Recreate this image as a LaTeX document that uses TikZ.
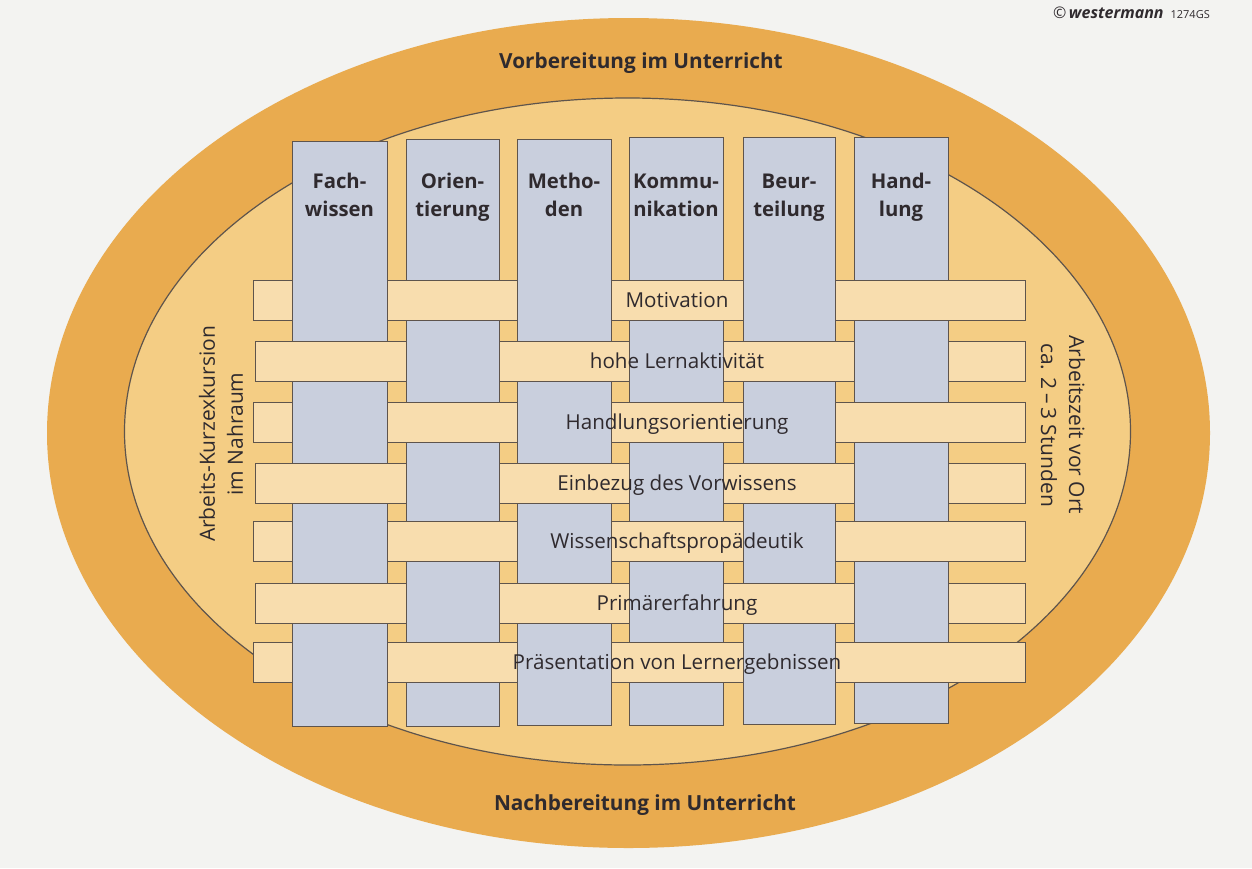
\documentclass[tikz,border=0pt]{standalone}
\usepackage{fontspec}
\setmainfont{Open Sans}
\definecolor{bg}{HTML}{F3F3F1}
\definecolor{ring}{HTML}{E9AB4F}
\definecolor{innerfill}{HTML}{F4CD84}
\definecolor{stripfill}{HTML}{F8DDAE}
\definecolor{colfill}{HTML}{C9CFDD}
\definecolor{edge}{HTML}{5E544C}
\definecolor{txt}{HTML}{2F2A2E}
\begin{document}
\begin{tikzpicture}[x=1pt,y=-1pt,
  stripbox/.style={fill=stripfill,draw=edge,line width=0.9pt},
  colbox/.style={fill=colfill,draw=edge,line width=0.9pt},
  rowlabel/.style={font=\fontsize{20.6}{22}\selectfont,text=txt,anchor=base,inner sep=0pt},
  colhead/.style={font=\bfseries\fontsize{20.3}{24}\selectfont,text=txt,anchor=base,inner sep=0pt},
  titlelabel/.style={font=\bfseries\fontsize{20.8}{24}\selectfont,text=txt,anchor=base,inner sep=0pt},
  sidelabel/.style={font=\fontsize{21}{28}\selectfont,text=txt,align=center,inner sep=0pt}]
\useasboundingbox (0,0) rectangle (1252,868);
\fill[bg] (0,0) rectangle (1252,868);
\fill[ring] (628.5,433) ellipse [x radius=581.5, y radius=415];
\draw[fill=innerfill,draw=edge,line width=1.2pt] (627.5,431.5) ellipse [x radius=503, y radius=333.5];
% horizontal strips
\foreach \t [count=\r] in {280,341,402,463,521,583,642}{
  \pgfmathsetmacro\lft{isodd(\r)?253:255}
  \draw[stripbox] (\lft,\t) rectangle (1025,\t+40);
}
% vertical columns
\foreach \L/\R/\T/\B in {292/387/141/726,406/499/139/726,517/611/139/725,629/723/137/725,743/835/137/724,854/948/137/723}{
  \draw[colbox] (\L,\T) rectangle (\R,\B);
}
% strips passing over columns
\foreach \t [count=\r] in {280,341,402,463,521,583,642}{
  \foreach \L/\R [count=\c] in {292/387,406/499,517/611,629/723,743/835,854/948}{
    \pgfmathtruncatemacro\s{\r+\c}
    \ifodd\s
      \fill[stripfill] (\L-0.6,\t) rectangle (\R+0.6,\t+40);
      \draw[edge,line width=0.9pt] (\L-0.6,\t) -- (\R+0.6,\t) (\L-0.6,\t+40) -- (\R+0.6,\t+40);
    \fi
  }
}
% column headers
\foreach \x/\a/\b [count=\i] in {339.5/Fach-/wissen,452.5/Orien-/tierung,564/Metho-/den,676/Kommu-/nikation,789/Beur-/teilung,901/Hand-/lung}{
  \node[colhead] (h\i a) at (\x,188) {\a};
  \node[colhead] (h\i b) at (\x,216) {\b};
}
% row labels
\node[rowlabel] (r1) at (677,307.5) {Motivation};
\node[rowlabel] (r2) at (677,368.5) {hohe Lernaktivität};
\node[rowlabel] (r3) at (677,429.5) {Handlungsorientierung};
\node[rowlabel] (r4) at (677,490.5) {Einbezug des Vorwissens};
\node[rowlabel] (r5) at (677,548.5) {Wissenschaftspropädeutik};
\node[rowlabel] (r6) at (677,610.5) {Primärerfahrung};
\node[rowlabel] (r7) at (677,669.5) {Präsentation von Lernergebnissen};
% titles
\node[titlelabel] (top) at (641,68) {Vorbereitung im Unterricht};
\node[titlelabel] (bottom) at (645,810) {Nachbereitung im Unterricht};
% side labels
\node[sidelabel,rotate=90] (left) at (221,434) {Arbeits-Kurzexkursion\\im Nahraum};
\node[sidelabel,rotate=-90] (right) at (1063,425) {Arbeitszeit vor Ort\\ca. 2\,–\,3 Stunden};
% copyright
\node[anchor=base east,inner sep=0pt,text=txt] (copy) at (1210,18) {{\fontsize{16}{17}\selectfont ©\,\textbf{\textit{westermann}}}\hspace{7pt}{\fontsize{11}{12}\selectfont 1274GS}};
\end{tikzpicture}
\end{document}
